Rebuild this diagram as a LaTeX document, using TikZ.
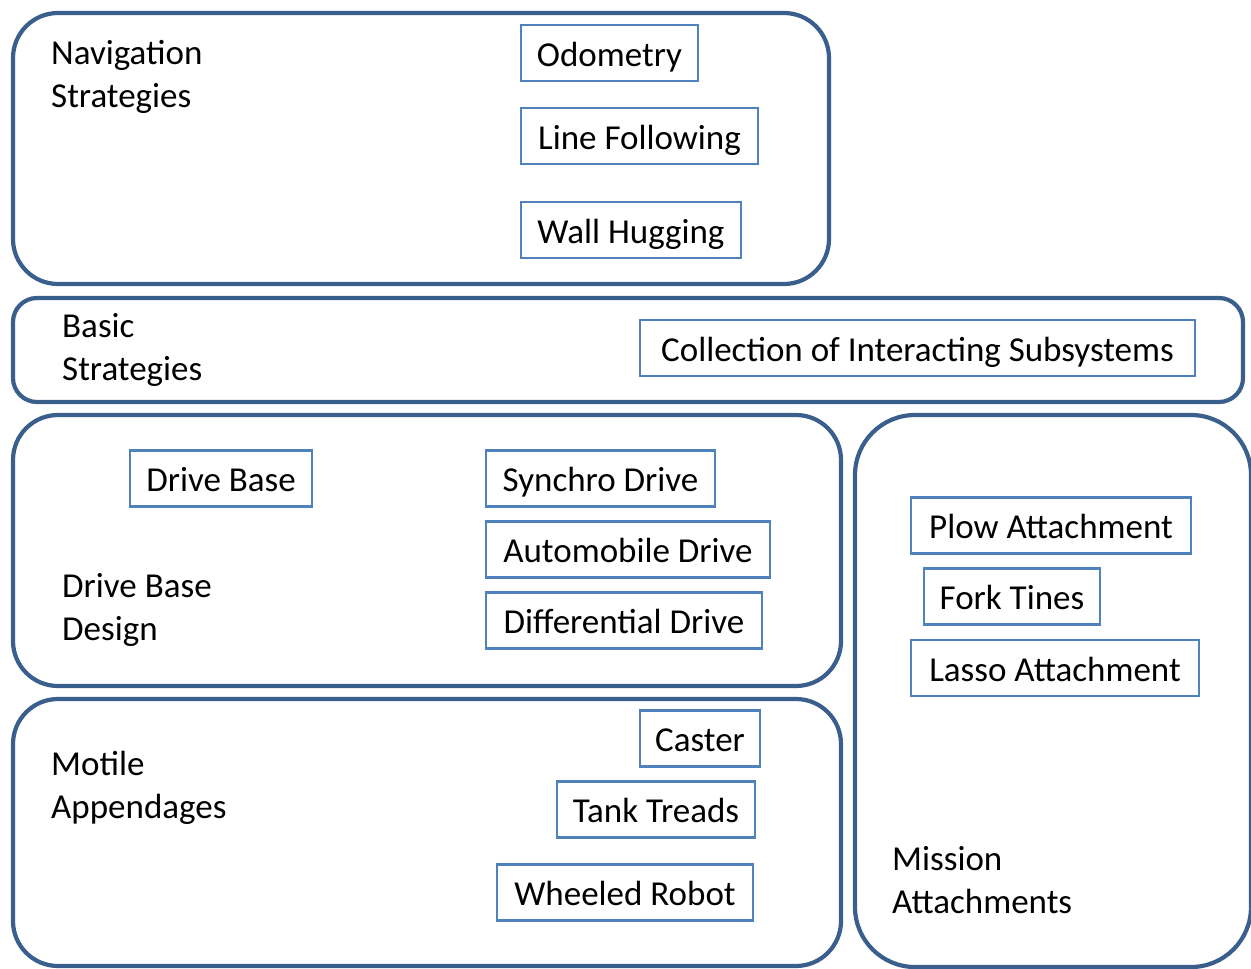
\documentclass[tikz,border=0pt]{standalone}
\usepackage{fontspec}
\setmainfont{Carlito}
\definecolor{panelblue}{HTML}{3B5F8D}
\definecolor{boxblue}{HTML}{4F81BD}
\begin{document}
\begin{tikzpicture}[x=1pt,y=-1pt,
  panel/.style={draw=panelblue,line width=4.2pt,rounded corners=#1,inner sep=0pt},
  panel/.default=45pt,
  item/.style={draw=boxblue,line width=2.5pt,inner sep=0pt,minimum height=56pt,text height=26pt,text depth=0pt,font=\fontsize{35}{43}\selectfont},
  lbl/.style={anchor=base west,inner sep=0pt,align=left,font=\fontsize{35}{43}\selectfont}]
\useasboundingbox (0,0) rectangle (1251,969);
% panels
\node[panel,minimum width=816pt,minimum height=271pt] (nav) at (421,148.5) {};
\node[panel=24pt,minimum width=1230pt,minimum height=104pt] (basic) at (628,350) {};
\node[panel,minimum width=828pt,minimum height=271pt] (drive) at (427,550.5) {};
\node[panel,minimum width=828pt,minimum height=267pt] (motile) at (427,832.5) {};
\node[panel=60pt,minimum width=396pt,minimum height=552pt] (mission) at (1053,691) {};
% panel labels (anchor = baseline of last line)
\node[lbl] (navl) at (51,107) {Navigation\\Strategies};
\node[lbl] (basicl) at (62,380) {Basic\\Strategies};
\node[lbl] (drivel) at (62,640) {Drive Base\\Design};
\node[lbl] (motilel) at (51,818) {Motile\\Appendages};
\node[lbl] (missionl) at (892,913) {Mission\\Attachments};
% items
\node[item,minimum width=177pt] (odo) at (609.5,53) {Odometry};
\node[item,minimum width=237pt] (line) at (639.5,136) {Line Following};
\node[item,minimum width=220pt] (wall) at (631,230) {Wall Hugging};
\node[item,minimum width=555pt] (coll) at (917.5,348) {Collection of Interacting Subsystems};
\node[item,minimum width=182pt] (dbase) at (221,478.5) {Drive Base};
\node[item,minimum width=229pt] (synchro) at (600.5,478.5) {Synchro Drive};
\node[item,minimum width=284pt] (auto) at (628,549.5) {Automobile Drive};
\node[item,minimum width=276pt] (diff) at (624,620.5) {Differential Drive};
\node[item,minimum width=280pt] (plow) at (1051,525.5) {Plow Attachment};
\node[item,minimum width=176pt] (fork) at (1012,596.5) {Fork Tines};
\node[item,minimum width=288pt] (lasso) at (1055,668) {Lasso Attachment};
\node[item,minimum width=120pt] (caster) at (700,738.5) {Caster};
\node[item,minimum width=198pt] (tank) at (656,809.5) {Tank Treads};
\node[item,minimum width=256pt] (wheel) at (625,892.5) {Wheeled Robot};
\end{tikzpicture}
\end{document}
